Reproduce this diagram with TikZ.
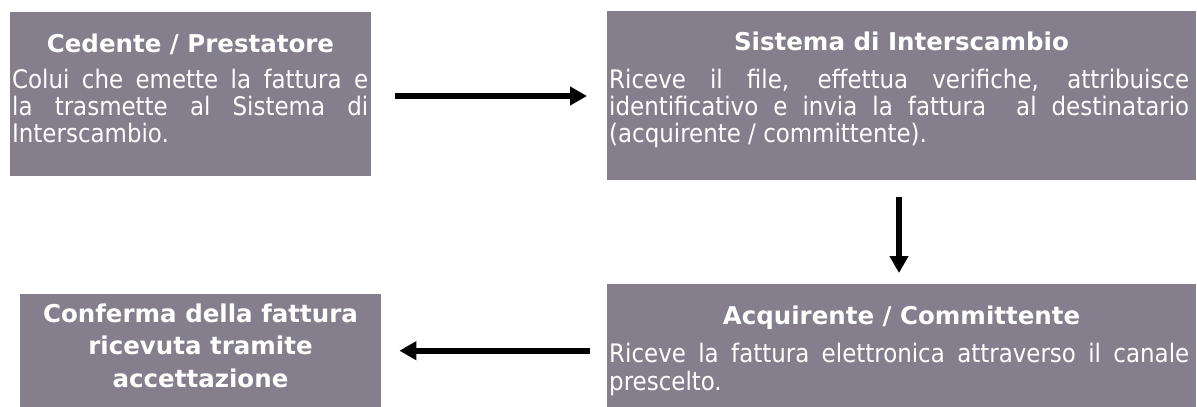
\documentclass[tikz,border=0pt]{standalone}
\usepackage{fontspec}
\usetikzlibrary{arrows.meta}
\IfFontExistsTF{DejaVu Sans Condensed}
  {\newfontfamily\bodyfont{DejaVu Sans Condensed}}
  {\newfontfamily\bodyfont{DejaVu Sans}[FakeStretch=0.9]}
\newfontfamily\titlefont{DejaVu Sans}
\definecolor{boxfill}{RGB}{133,126,141}
\tikzset{
  box/.style={fill=boxfill, draw=none, inner sep=0pt, anchor=north west},
  ttl/.style={text=white, inner sep=0pt, anchor=base, font=\titlefont\bfseries\fontsize{24.5}{32.5}\selectfont},
  body/.style={text=white, inner sep=0pt, anchor=base west, font=\bodyfont\fontsize{25.5}{27.5}\selectfont},
  arr/.style={-{Triangle[length=17pt,width=18pt]}, line width=6pt, black}
}
\begin{document}
\begin{tikzpicture}[x=1pt,y=-1pt]
\useasboundingbox (0,0) rectangle (1197,407);
% boxes
\node[box, minimum width=361pt, minimum height=164pt] (b1) at (10,12) {};
\node[box, minimum width=589pt, minimum height=169pt] (b2) at (607,11) {};
\node[box, minimum width=589pt, minimum height=123pt] (b3) at (607,284) {};
\node[box, minimum width=361pt, minimum height=113pt] (b4) at (20,294) {};
% titles
\node[ttl] (t1) at (190.5,52) {Cedente / Prestatore};
\node[ttl] (t2) at (901.5,50) {Sistema di Interscambio};
\node[ttl] (t3) at (901.5,324) {Acquirente / Committente};
\node[ttl] (t4) at (200.5,322) {\vtop{\baselineskip=32.5pt\halign{\hfil#\hfil\cr Conferma della fattura\cr ricevuta tramite\cr accettazione\cr}}};
% bodies
\node[body] (s1) at (12,88) {\vtop{\hsize=356pt\baselineskip=27pt
  \hbox to\hsize{Colui che emette la fattura e}
  \hbox to\hsize{la trasmette al Sistema di}
  \hbox{Interscambio.}}};
\node[body] (s2) at (609,88) {\vtop{\hsize=580pt\baselineskip=27pt
  \hbox to\hsize{Riceve il file, effettua verifiche, attribuisce}
  \hbox to\hsize{identificativo e invia la fattura\ \ al destinatario}
  \hbox{(acquirente / committente).}}};
\node[body] (s3) at (609,362) {\vtop{\hsize=580pt\baselineskip=28pt
  \hbox to\hsize{Riceve la fattura elettronica attraverso il canale}
  \hbox{prescelto.}}};
% connectors
\coordinate (c1) at (0,96);
\coordinate (c2) at (899,0);
\draw[arr, shorten <=24pt, shorten >=20pt] (b1.east |- c1) -- (b2.west |- c1);
\draw[arr, shorten <=17pt, shorten >=11pt] (b2.south -| c2) -- (b3.north -| c2);
\draw[arr, shorten <=17pt, shorten >=18pt] (b3.west |- b4.east) -- (b4.east);
\end{tikzpicture}
\end{document}
